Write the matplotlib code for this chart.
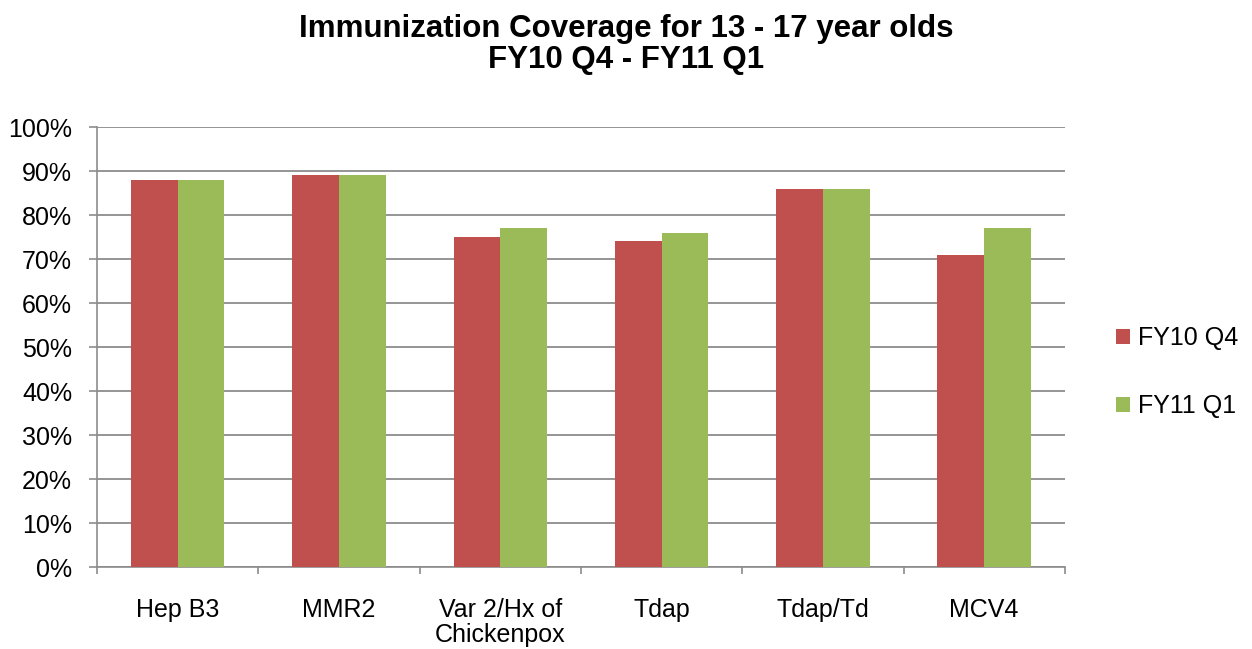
import matplotlib.pyplot as plt
import numpy as np

plt.rcParams['font.family'] = ['Liberation Sans', 'DejaVu Sans']

categories = ['Hep B3', 'MMR2', 'Var 2/Hx of\nChickenpox', 'Tdap', 'Tdap/Td', 'MCV4']
fy10_q4 = [88, 89, 75, 74, 86, 71]
fy11_q1 = [88, 89, 77, 76, 86, 77]
series_names = ['FY10 Q4', 'FY11 Q1']
colors = ['#C0504D', '#9BBB59']

fig = plt.figure(figsize=(12.52, 6.49), dpi=100)
ax = fig.add_axes([0.0775, 0.1263, 0.773, 0.678])

x = np.arange(len(categories))
w = 0.29
ax.bar(x - w / 2, fy10_q4, w, color=colors[0], label=series_names[0], zorder=3)
ax.bar(x + w / 2, fy11_q1, w, color=colors[1], label=series_names[1], zorder=3)

ax.set_xlim(-0.5, len(categories) - 0.5)
ax.set_ylim(0, 100)
ax.set_yticks(range(0, 101, 10))
ax.set_yticklabels([f'{v}%' for v in range(0, 101, 10)], fontsize=18)
ax.yaxis.grid(True, color='#8C8C8C', linewidth=1.3, zorder=0)

ax.set_xticks(np.arange(-0.5, len(categories), 1))
ax.set_xticklabels([])
ax.set_xticks(x, minor=True)
ax.set_xticklabels(categories, minor=True, fontsize=18, linespacing=1.05)
ax.tick_params(axis='x', which='major', length=5, color='#8C8C8C', width=1.2)
ax.tick_params(axis='x', which='minor', length=0, pad=22)
ax.tick_params(axis='y', length=6, color='#8C8C8C', width=1.2, pad=12)

for s in ['top', 'right']:
    ax.spines[s].set_visible(False)
ax.spines['left'].set_color('#8C8C8C')
ax.spines['bottom'].set_color('#8C8C8C')
ax.spines['left'].set_linewidth(1.2)
ax.spines['bottom'].set_linewidth(1.2)

fig.text(0.5, 0.978, 'Immunization Coverage for 13 - 17 year olds\nFY10 Q4 - FY11 Q1',
         ha='center', va='top', fontsize=22.5, fontweight='bold', linespacing=1.05)

ax.legend(loc='center left', bbox_to_anchor=(1.030, 0.443), frameon=False,
          fontsize=18, handlelength=0.56, handleheight=0.56, handletextpad=0.3,
          labelspacing=1.75)

fig.savefig('out.png', dpi=100)
